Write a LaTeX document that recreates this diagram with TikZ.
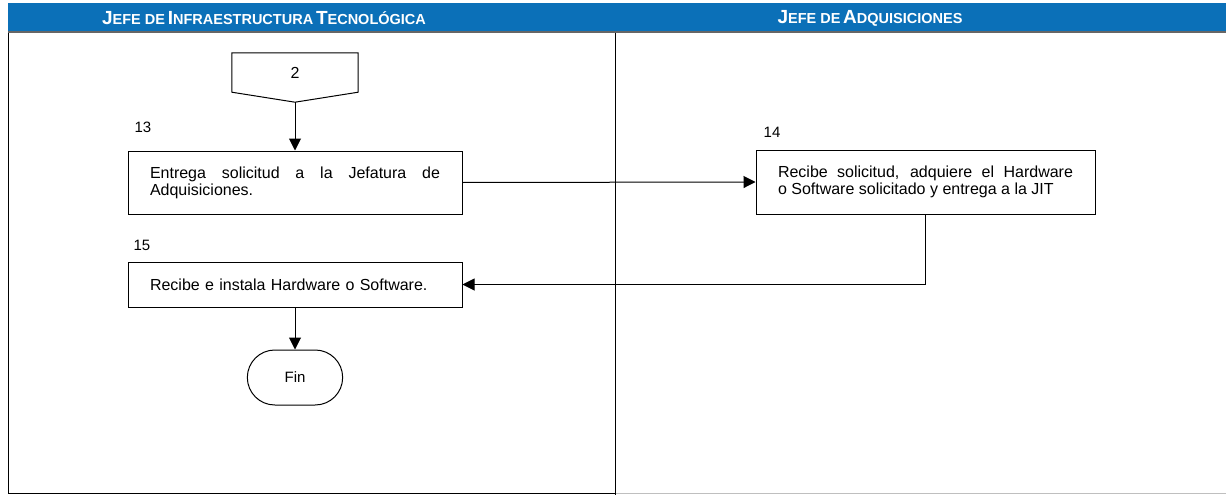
\documentclass[tikz,border=0pt]{standalone}
\usepackage{fontspec}
\setmainfont{Liberation Sans}
\usetikzlibrary{arrows.meta,calc,shapes.misc}
\definecolor{laneblue}{HTML}{0B70B8}
\newcommand{\lanecap}[2]{{\fontsize{19}{19}\selectfont #1}{\fontsize{14.5}{14.5}\selectfont #2}}
\newcommand{\nohyph}{\hyphenpenalty=10000\relax}

\begin{document}
\begin{tikzpicture}[x=1pt,y=-1pt,
                    activity/.style={draw,line width=1pt,minimum width=334pt,
                                     text width=290pt,align=justify,inner sep=0pt,
                                     font=\fontsize{16}{17}\selectfont\nohyph},
                    steplbl/.style={font=\fontsize{15}{15}\selectfont},
                    flow/.style={line width=1pt,-{Triangle[length=12pt,width=12pt]}},
                    lanehead/.style={text=white,font=\bfseries}]

\useasboundingbox (0,0) rectangle (1226,495);

%lane headers
\fill [laneblue] (8,3) rectangle (1226,32);
\draw [black!60,line width=1.5pt] (8,32) -- (1226,32);
\node [lanehead] (hjit) at (264,18) {\lanecap{J}{EFE DE} \lanecap{I}{NFRAESTRUCTURA} \lanecap{T}{ECNOLÓGICA}};
\node [lanehead] (hadq) at (870,18) {\lanecap{J}{EFE DE} \lanecap{A}{DQUISICIONES}};

%lane frame
\draw [line width=1pt] (8,33) -- (8,493) -- (615,493);
\draw [black!25,line width=1pt] (615,493) -- (1226,493);
\draw [line width=1pt] (615,33) -- (615,495);

%off-page connector
\node [minimum width=126pt,minimum height=39pt,font=\fontsize{16}{16}\selectfont] (conn2) at (295,72.5) {2};
\coordinate (conn2tip) at ($(conn2.south)+(0,10)$);
\draw [line width=1pt] (conn2.south west) -- (conn2.north west) -- (conn2.north east)
      -- (conn2.south east) -- (conn2tip) -- cycle;

%activities
\node [steplbl] (n13) at (143,127) {13};
\node [activity,minimum height=63pt] (act13) at (295,182.5)
      {Entrega solicitud a la Jefatura de\linebreak Adquisiciones.};

\node [steplbl] (n14) at (772,132) {14};
\node [activity,minimum width=339pt,text width=295pt,minimum height=64pt] (act14) at (925.5,182)
      {Recibe solicitud, adquiere el Hardware\linebreak o Software solicitado y entrega a la JIT};

\node [steplbl] (n15) at (142,245) {15};
\node [activity,align=left,minimum height=45pt] (act15) at (295,284.5)
      {Recibe e instala Hardware o Software.};

%end
\node [draw,line width=1pt,rounded rectangle,minimum width=102pt,minimum height=55pt,
       font=\fontsize{15}{15}\selectfont] (fin) at (295,377.5) {Fin};

%flows
\draw [flow] (conn2tip) -- (act13.north);
\draw [flow] (act13.east) -- (act14.west);
\draw [flow] (act14.south) |- (act15.east);
\draw [flow] (act15.south) -- (fin.north);

\end{tikzpicture}
\end{document}
